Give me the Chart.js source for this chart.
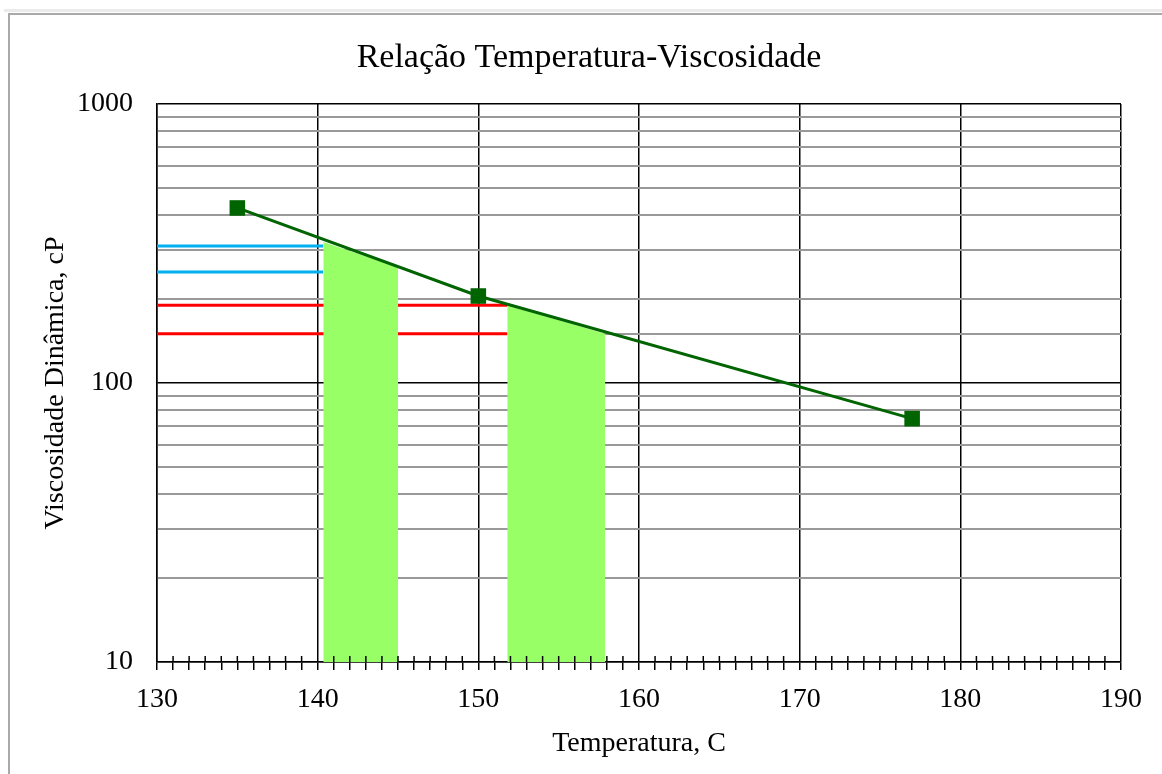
<!DOCTYPE html>
<html>
<head>
<meta charset="utf-8">
<script src="https://cdn.jsdelivr.net/npm/chart.js@4.4.1/dist/chart.umd.min.js"></script>
<style>
  html, body { margin: 0; padding: 0; background: #fff; overflow: hidden; width: 1162px; height: 774px; }
  #sheetline { position: absolute; left: 4px; top: 9px; width: 1170px; height: 3px; background: #ebebeb; }
  #frame { position: absolute; left: 8px; top: 13px; width: 1170px; height: 780px;
           border-left: 2px solid #a9a9a9; border-top: 2px solid #a9a9a9; background: #fff; }
  #c { position: absolute; left: 0; top: 0; }
</style>
</head>
<body>
<div id="sheetline"></div>
<div id="frame"><canvas id="c" width="1162" height="759"></canvas></div>
<script>
// ---- data ----
const tempPoints = [135, 150, 177];          // Temperatura, C
const viscPoints = [424, 205, 74.5];         // Viscosidade Dinâmica, cP
const blueLevels = [310, 250];               // blue horizontal guides (cP)
const blueRange  = [130, 140.35];            // x extent of blue guides
const redLevels  = [190, 150];               // red horizontal guides (cP)
const redRange   = [130, 151.8];             // x extent of red guides
const mixX  = [140.35, 145.0];               // first green band (temperatures)
const mixY  = [320, 260];                    // top of first green band (cP)
const compX = [151.8, 157.9];                // second green band (temperatures)
const compY = [190, 150];                    // top of second green band (cP)
const yTickLabels = [10, 100, 1000];
const xTickLabels = [130, 140, 150, 160, 170, 180, 190];

const FONT = "'Liberation Serif', 'Times New Roman', serif";

function pts(xs, ys) { return xs.map((x, i) => ({ x: x, y: ys[i] })); }
function hLine(range, level) { return range.map(x => ({ x: x, y: level })); }

const datasets = [];
// trend line with square markers (on top)
datasets.push({
  label: 'Viscosidade',
  data: pts(tempPoints, viscPoints),
  borderColor: '#006400', backgroundColor: '#006400',
  borderWidth: 3, pointStyle: 'rect', pointRadius: 11, pointHoverRadius: 11,
  pointBorderWidth: 0, tension: 0, fill: false, order: 0
});
// green bands
[[mixX, mixY], [compX, compY]].forEach(([xs, ys], i) => {
  datasets.push({
    label: 'faixa' + i, data: pts(xs, ys),
    borderWidth: 0, borderColor: 'rgba(0,0,0,0)', backgroundColor: '#99FF66',
    pointRadius: 0, fill: 'start', tension: 0, order: 1
  });
});
// blue & red guides
blueLevels.forEach((lv, i) => datasets.push({
  label: 'azul' + i, data: hLine(blueRange, lv), borderColor: '#00B0F0',
  borderWidth: 3, pointRadius: 0, fill: false, order: 2
}));
redLevels.forEach((lv, i) => datasets.push({
  label: 'vermelho' + i, data: hLine(redRange, lv), borderColor: '#FF0000',
  borderWidth: 3, pointRadius: 0, fill: false, order: 2
}));

const innerTicks = {
  id: 'innerTicks',
  afterDatasetsDraw(chart) {
    const xs = chart.scales.x, ctx = chart.ctx, b = chart.chartArea.bottom;
    ctx.save();
    ctx.strokeStyle = '#000'; ctx.lineWidth = 1.5;
    xs.ticks.forEach(t => {
      if (!xTickLabels.includes(t.value)) {
        const px = xs.getPixelForValue(t.value);
        ctx.beginPath(); ctx.moveTo(px, b - 6); ctx.lineTo(px, b); ctx.stroke();
      }
    });
    ctx.restore();
  }
};

new Chart(document.getElementById('c'), {
  type: 'line',
  data: { datasets: datasets },
  plugins: [innerTicks],
  options: {
    responsive: false, animation: false, events: [],
    layout: { padding: { left: 0, top: 0, right: 4, bottom: 0 } },
    plugins: {
      legend: { display: false }, tooltip: { enabled: false },
      title: {
        display: true, text: 'Relação Temperatura-Viscosidade', color: '#000',
        font: { family: FONT, size: 34, weight: 'normal', lineHeight: 1.2 },
        padding: { top: 22.6, bottom: 25.6 }
      }
    },
    scales: {
      x: {
        type: 'linear', min: 130, max: 190,
        afterFit(s) { s.height = 112; },
        ticks: {
          stepSize: 1, autoSkip: false, maxRotation: 0, color: '#000', padding: 13,
          font: { family: FONT, size: 28 },
          callback: v => xTickLabels.includes(v) ? String(v) : ''
        },
        grid: {
          color: c => (c.tick && xTickLabels.includes(c.tick.value)) ? '#000' : 'rgba(0,0,0,0)',
          tickColor: '#000', lineWidth: 1.5, tickLength: 8
        },
        border: { display: true, color: '#000', width: 1.5 },
        title: {
          display: true, text: 'Temperatura, C', color: '#000',
          font: { family: FONT, size: 28, lineHeight: 1.2 },
          padding: { top: 0, bottom: 14 }
        }
      },
      y: {
        type: 'logarithmic', min: 10, max: 1000,
        afterFit(s) { s.width = 147; },
        ticks: {
          autoSkip: false, color: '#000', padding: 24,
          font: { family: FONT, size: 28 },
          callback: v => yTickLabels.includes(v) ? String(v) : ''
        },
        grid: {
          drawTicks: false,
          color: c => (c.tick && yTickLabels.includes(c.tick.value)) ? '#000' : '#999999',
          lineWidth: c => (c.tick && yTickLabels.includes(c.tick.value)) ? 1.5 : 2
        },
        border: { display: true, color: '#000', width: 1.5 },
        title: {
          display: true, text: 'Viscosidade Dinâmica, cP', color: '#000',
          font: { family: FONT, size: 28, lineHeight: 1.2 },
          padding: { top: 29, bottom: 0 }
        }
      },
      spacer: {
        type: 'linear', position: 'right', display: true,
        afterFit(s) { s.width = 47; },
        grid: { display: false, drawTicks: false },
        border: { display: false },
        ticks: { display: false }
      }
    }
  }
});
</script>
</body>
</html>
